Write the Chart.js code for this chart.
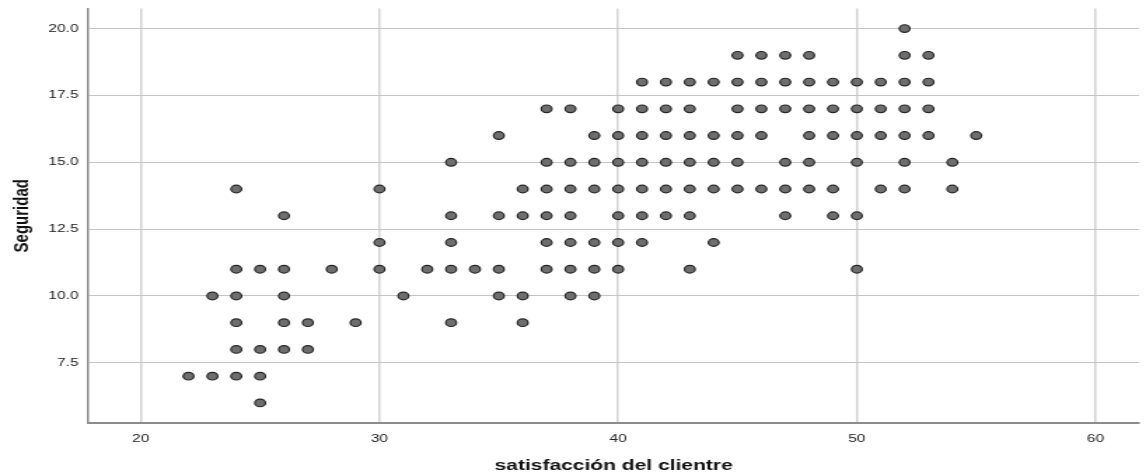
<!DOCTYPE html>
<html>
<head>
<meta charset="utf-8">
<script src="https://cdn.jsdelivr.net/npm/chart.js@4/dist/chart.umd.min.js"></script>
<style>
  html, body { margin: 0; padding: 0; background: #fff; overflow: hidden; }
  /* the reference is stretched sideways, so draw narrow and widen */
  #wrap { width: 818px; height: 475px; transform: scaleX(1.401); transform-origin: 0 0; }
</style>
</head>
<body>
<div id="wrap"><canvas id="scatterChart"></canvas></div>
<script>
// x: satisfacción del clientre, y: Seguridad (one entry per point)
const satisfaccion = [
    22,
    23, 23,
    24, 24, 24, 24, 24, 24,
    25, 25, 25, 25,
    26, 26, 26, 26, 26,
    27, 27,
    28,
    29,
    30, 30, 30,
    31,
    32,
    33, 33, 33, 33, 33,
    34,
    35, 35, 35, 35,
    36, 36, 36, 36,
    37, 37, 37, 37, 37, 37,
    38, 38, 38, 38, 38, 38, 38,
    39, 39, 39, 39, 39, 39,
    40, 40, 40, 40, 40, 40, 40,
    41, 41, 41, 41, 41, 41, 41,
    42, 42, 42, 42, 42, 42,
    43, 43, 43, 43, 43, 43, 43,
    44, 44, 44, 44, 44,
    45, 45, 45, 45, 45, 45,
    46, 46, 46, 46, 46,
    47, 47, 47, 47, 47, 47,
    48, 48, 48, 48, 48, 48,
    49, 49, 49, 49, 49,
    50, 50, 50, 50, 50, 50,
    51, 51, 51, 51,
    52, 52, 52, 52, 52, 52, 52,
    53, 53, 53, 53,
    54, 54,
    55
];
const seguridad = [
    7,
    10, 7,
    14, 11, 10, 9, 8, 7,
    11, 8, 7, 6,
    13, 11, 10, 9, 8,
    9, 8,
    11,
    9,
    14, 12, 11,
    10,
    11,
    15, 13, 12, 11, 9,
    11,
    16, 13, 11, 10,
    14, 13, 10, 9,
    17, 15, 14, 13, 12, 11,
    17, 15, 14, 13, 12, 11, 10,
    16, 15, 14, 12, 11, 10,
    17, 16, 15, 14, 13, 12, 11,
    18, 17, 16, 15, 14, 13, 12,
    18, 17, 16, 15, 14, 13,
    18, 17, 16, 15, 14, 13, 11,
    18, 16, 15, 14, 12,
    19, 18, 17, 16, 15, 14,
    19, 18, 17, 16, 14,
    19, 18, 17, 15, 14, 13,
    19, 18, 17, 16, 15, 14,
    18, 17, 16, 14, 13,
    18, 17, 16, 15, 13, 11,
    18, 17, 16, 14,
    20, 19, 18, 17, 16, 15, 14,
    19, 18, 17, 16,
    15, 14,
    16
];
const xTicks = [20, 30, 40, 50, 60];
const yTicks = [7.5, 10, 12.5, 15, 17.5, 20];

const fontFam = "'Liberation Sans', Arial, sans-serif";

new Chart(document.getElementById('scatterChart'), {
    type: 'scatter',
    data: {
        datasets: [{
            data: satisfaccion.map((x, i) => ({ x: x, y: seguridad[i] })),
            backgroundColor: '#6e6e6e',
            borderColor: '#262626',
            borderWidth: 1.2,
            pointRadius: 3.8,
            pointHoverRadius: 3.8
        }]
    },
    options: {
        responsive: true,
        maintainAspectRatio: false,
        animation: false,
        layout: { padding: { top: 8.5, right: 0, left: 0, bottom: 0 } },
        plugins: {
            legend: { display: false },
            tooltip: { enabled: false }
        },
        scales: {
            x: {
                type: 'linear',
                min: 17.8,
                max: 61.82,
                afterBuildTicks: axis => { axis.ticks = xTicks.map(v => ({ value: v })); },
                afterFit: axis => {
                    axis.height = 52;
                    axis.paddingLeft = 0;
                    axis.paddingRight = 0;
                },
                grid: { color: '#d2d2d2', lineWidth: 1.5, drawTicks: false },
                border: { color: '#8c8c8c', width: 2 },
                ticks: {
                    padding: 9,
                    color: '#222',
                    font: { family: fontFam, size: 11 }
                },
                title: {
                    display: true,
                    text: 'satisfacción del clientre',
                    color: '#111',
                    padding: { top: 0, bottom: 0 },
                    font: { family: fontFam, size: 15, weight: 'bold' }
                }
            },
            y: {
                type: 'linear',
                min: 5.25,
                max: 20.75,
                afterBuildTicks: axis => { axis.ticks = yTicks.map(v => ({ value: v })); },
                afterFit: axis => {
                    axis.width = 63;
                    axis.paddingTop = 0;
                    axis.paddingBottom = 0;
                },
                grid: { color: '#c4c4c4', lineWidth: 1, drawTicks: false },
                border: { color: '#8c8c8c', width: 1.5 },
                ticks: {
                    padding: 7,
                    color: '#222',
                    font: { family: fontFam, size: 11 },
                    callback: v => v.toFixed(1)
                },
                title: {
                    display: true,
                    text: 'Seguridad',
                    color: '#111',
                    padding: { top: 7, bottom: 0 },
                    font: { family: fontFam, size: 15, weight: 'bold' }
                }
            }
        }
    }
});
</script>
</body>
</html>
